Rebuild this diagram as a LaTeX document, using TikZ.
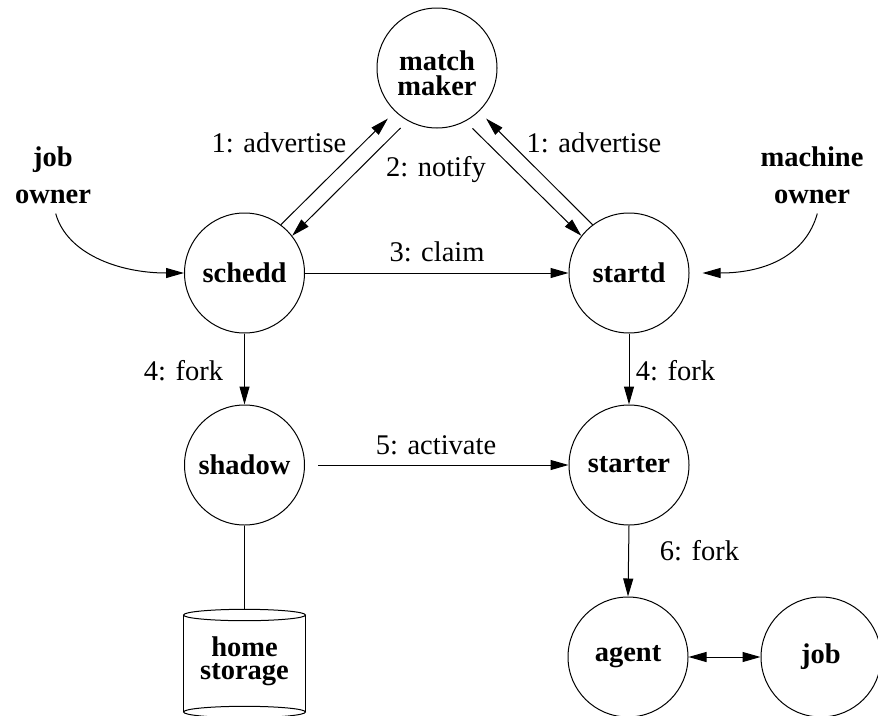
\documentclass[tikz,border=0pt]{standalone}
\usepackage{fontspec}
\setmainfont{Liberation Serif}
\usetikzlibrary{arrows.meta}
\begin{document}
\begin{tikzpicture}[x=1pt,y=-1pt,
  every node/.style={font=\fontsize{28.5}{25}\selectfont},
  proc/.style={circle,draw,line width=1pt,minimum size=120pt,inner sep=0pt,
    font=\fontsize{28.5}{24.6}\selectfont\bfseries,align=center},
  lbl/.style={inner sep=0pt},
  owner/.style={inner sep=0pt,align=center,font=\fontsize{28.5}{37.5}\selectfont\bfseries},
  store/.style={inner sep=0pt,align=center,font=\fontsize{28.5}{23.5}\selectfont\bfseries},
  arr/.style={-{Triangle[length=18pt,width=10pt]},line width=1pt},
  dblarr/.style={{Triangle[length=18pt,width=10pt]}-{Triangle[length=18pt,width=10pt]},line width=1pt},
  plain/.style={line width=1pt},
  ]
\useasboundingbox (0,0) rectangle (878,715);

% processes
\node[proc] (mm) at (437,68) {\rule{0pt}{30pt}match\\maker};
\node[proc] (schedd) at (244.5,273) {schedd};
\node[proc] (startd) at (629,273) {startd};
\node[proc] (shadow) at (244.5,465) {shadow};
\node[proc] (starter) at (629,465) {starter};
\node[proc] (agent) at (628,657) {agent};
\node[proc] (job) at (821,657) {job};

% owners
\node[owner] (jo) at (53,175) {job\\owner};
\node[owner] (mo) at (812,175) {machine\\owner};

% home storage cylinder
\draw[plain] (244.5,615) ellipse[x radius=61pt,y radius=5.7pt];
\draw[plain] (183.5,615) -- (183.5,712);
\draw[plain] (305.5,615) -- (305.5,712);
\draw[plain] (244.5,712) ellipse[x radius=61pt,y radius=5.7pt];
\coordinate (cyltop) at (244.5,609.3);
\node[store] (hs) at (244.5,661) {home\\storage};

% connectors
\draw[arr,shorten >=10pt] (schedd.53) -- (mm.226);
\draw[arr,shorten <=10pt] (mm.241) -- (schedd.38);
\draw[arr,shorten <=10pt] (mm.298) -- (startd.142);
\draw[arr,shorten >=10pt] (startd.127.6) -- (mm.314.4);
\draw[arr] (schedd.east) -- (startd.west);
\draw[arr] (schedd.south) -- (shadow.north);
\draw[arr] (startd.south) -- (starter.north);
\draw[arr,shorten <=13pt] (shadow.east) -- (starter.west);
\draw[arr] (starter.south) -- (agent.north);
\draw[dblarr] (agent.east) -- (job.west);
\draw[plain] (shadow.south) -- (cyltop);
\draw[arr,shorten <=10pt] (jo.south) .. controls +(14,50) and +(-65,0) .. (schedd.west);
\draw[arr,shorten <=10pt,shorten >=13pt] ([xshift=8pt]mo.south) .. controls +(-14,50) and +(78,0) .. (startd.east);

% labels
\node[lbl] (l1) at (279,143) {1: advertise};
\node[lbl] (l2) at (436,170) {2: notify};
\node[lbl] (l3) at (594,143) {1: advertise};
\node[lbl] (l4) at (437,252) {3: claim};
\node[lbl] (l5) at (183.5,371) {4: fork};
\node[lbl] (l6) at (675.5,371) {4: fork};
\node[lbl] (l7) at (436,445) {5: activate};
\node[lbl] (l8) at (699.5,551) {6: fork};
\end{tikzpicture}
\end{document}
